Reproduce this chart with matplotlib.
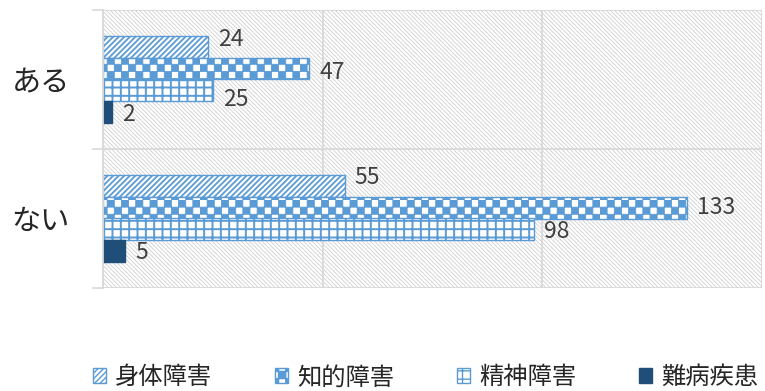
import warnings
warnings.filterwarnings("ignore")
import numpy as np
import matplotlib
matplotlib.use("Agg")
import matplotlib.pyplot as plt
import matplotlib.hatch as mhatch
from matplotlib.path import Path
from matplotlib.patches import Rectangle, Patch

# ---------------- data ----------------
categories = ["ある", "ない"]
series_names = ["身体障害", "知的障害", "精神障害", "難病疾患"]
physical = [24, 55]
intellectual = [47, 133]
mental = [25, 98]
intractable = [2, 5]

# ---------------- custom checkerboard hatch ----------------
class CheckerHatch(mhatch.HatchPatternBase):
    def __init__(self, hatch, density):
        self.n = 14 if "c" in hatch else 0
        self.cells = [(i, j) for i in range(self.n) for j in range(self.n) if (i + j) % 2 == 0]
        self.num_vertices = len(self.cells) * 5

    def set_vertices_and_codes(self, vertices, codes):
        s = 1.0 / self.n
        k = 0
        for i, j in self.cells:
            x0, y0 = i * s, j * s
            vertices[k:k + 5] = [(x0, y0), (x0 + s, y0), (x0 + s, y0 + s), (x0, y0 + s), (x0, y0)]
            codes[k:k + 5] = [Path.MOVETO, Path.LINETO, Path.LINETO, Path.LINETO, Path.CLOSEPOLY]
            k += 5

if CheckerHatch not in mhatch._hatch_types:
    mhatch._hatch_types.append(CheckerHatch)

plt.rcParams["font.family"] = ["Noto Sans CJK JP", "DejaVu Sans"]

BLUE = "#5B9BD5"
DARK = "#1F4E79"
GRID = "#D9D9D9"

fig = plt.figure(figsize=(7.65, 3.91), dpi=100)
ax = fig.add_axes([103 / 765, 1 - 288 / 391, 659 / 765, 278 / 391])

# hatched background of the plot area
bg = Rectangle((0, 0), 1, 1, transform=ax.transAxes, facecolor="white",
               edgecolor="#D0D0D0", lw=0, hatch="\\" * 8, zorder=0)
if hasattr(bg, "set_hatch_linewidth"):
    bg.set_hatch_linewidth(0.6)
ax.add_patch(bg)
ax.patch.set_visible(False)

y = np.arange(len(categories))
h = 0.155
styles = [
    dict(facecolor="white", edgecolor=BLUE, hatch="//////", hlw=1.3),
    dict(facecolor="white", edgecolor=BLUE, hatch="c", hlw=0.6),
    dict(facecolor="white", edgecolor=BLUE, hatch="++", hlw=1.4),
    dict(facecolor=DARK, edgecolor=DARK, hatch=None, hlw=1.0),
]
all_vals = [physical, intellectual, mental, intractable]
# label vertical nudges (pixels, positive = up)
label_dy = [[8, -4, -9, -3], [9, 0, -2, -2]]

handles = []
for k, (vals, st) in enumerate(zip(all_vals, styles)):
    pos = y + (k - 1.5) * h
    bars = ax.barh(pos, vals, height=h, facecolor=st["facecolor"], edgecolor=st["edgecolor"],
                   hatch=st["hatch"], linewidth=1.0, zorder=2)
    for b in bars:
        if hasattr(b, "set_hatch_linewidth"):
            b.set_hatch_linewidth(st["hlw"])
    for ci, (b, v) in enumerate(zip(bars, vals)):
        ax.annotate(str(v), xy=(v, pos[ci]), xytext=(10, label_dy[ci][k]),
                    textcoords="offset pixels", ha="left", va="center",
                    fontsize=16.5, color="#404040", zorder=3)
    hp = Patch(facecolor=st["facecolor"], edgecolor=st["edgecolor"], hatch=st["hatch"],
               linewidth=1.0, label=series_names[k])
    if hasattr(hp, "set_hatch_linewidth"):
        hp.set_hatch_linewidth(st["hlw"])
    handles.append(hp)

ax.set_xlim(0, 150)
ax.set_ylim(len(categories) - 0.5, -0.5)
ax.set_xticks([0, 50, 100, 150])
ax.set_xticklabels([])
ax.tick_params(axis="x", length=0)
ax.set_yticks(y)
ax.set_yticklabels(categories, fontsize=21, color="#262626")
ax.tick_params(axis="y", which="major", length=0, pad=24)
ax.set_yticks([-0.5, 0.5, 1.5], minor=True)
ax.tick_params(axis="y", which="minor", length=8, width=1.2, color=GRID)
ax.grid(True, axis="x", which="major", color=GRID, linewidth=1.3, zorder=1)
ax.grid(True, axis="y", which="minor", color=GRID, linewidth=1.3, zorder=1)
ax.set_axisbelow(True)
for s in ax.spines.values():
    s.set_visible(False)
ax.spines["left"].set_visible(True)
ax.spines["left"].set_color(GRID)
ax.spines["left"].set_linewidth(1.3)

fig.legend(handles=handles, loc="center", bbox_to_anchor=(0.556, 0.035), ncol=4,
           frameon=False, fontsize=17.5, handlelength=0.55, handleheight=0.55,
           handletextpad=0.35, columnspacing=2.6, labelcolor="#262626")

fig.savefig("out.png", dpi=100)
